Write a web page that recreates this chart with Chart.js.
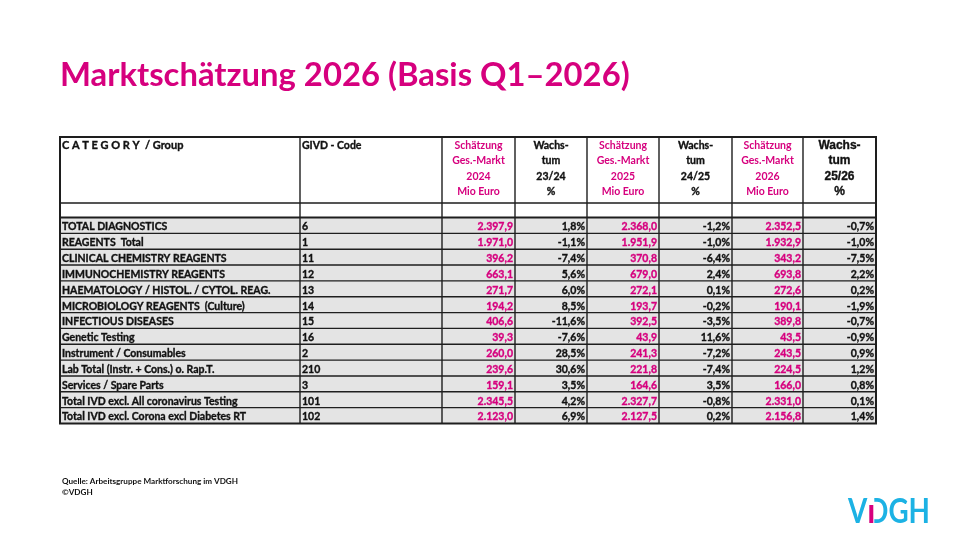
<!DOCTYPE html>
<html>
<head>
<meta charset="utf-8">
<script src="https://cdn.jsdelivr.net/npm/chart.js@4"></script>
<style>
  html, body { margin: 0; padding: 0; background: #fff; }
  #wrap { width: 960px; height: 540px; position: relative; }
</style>
</head>
<body>
<div id="wrap"><canvas id="chart" width="960" height="540"></canvas></div>
<script>
// Daten der Tabelle
const categories = [
    'TOTAL DIAGNOSTICS',
    'REAGENTS  Total',
    'CLINICAL CHEMISTRY REAGENTS',
    'IMMUNOCHEMISTRY REAGENTS',
    'HAEMATOLOGY / HISTOL. / CYTOL. REAG.',
    'MICROBIOLOGY REAGENTS  (Culture)',
    'INFECTIOUS DISEASES',
    'Genetic Testing',
    'Instrument / Consumables',
    'Lab Total (Instr. + Cons.) o. Rap.T.',
    'Services / Spare Parts',
    'Total IVD excl. All coronavirus Testing',
    'Total IVD excl. Corona excl Diabetes RT',
];
const givdCodes = ['6', '1', '11', '12', '13', '14', '15', '16', '2', '210', '3', '101', '102'];
const market2024 = [2397.9, 1971.0, 396.2, 663.1, 271.7, 194.2, 406.6, 39.3, 260.0, 239.6, 159.1, 2345.5, 2123.0];
const growth2324 = [1.8, -1.1, -7.4, 5.6, 6.0, 8.5, -11.6, -7.6, 28.5, 30.6, 3.5, 4.2, 6.9];
const market2025 = [2368.0, 1951.9, 370.8, 679.0, 272.1, 193.7, 392.5, 43.9, 241.3, 221.8, 164.6, 2327.7, 2127.5];
const growth2425 = [-1.2, -1.0, -6.4, 2.4, 0.1, -0.2, -3.5, 11.6, -7.2, -7.4, 3.5, -0.8, 0.2];
const market2026 = [2352.5, 1932.9, 343.2, 693.8, 272.6, 190.1, 389.8, 43.5, 243.5, 224.5, 166.0, 2331.0, 2156.8];
const growth2526 = [-0.7, -1.0, -7.5, 2.2, 0.2, -1.9, -0.7, -0.9, 0.9, 1.2, 0.8, 0.1, 1.4];

// Kopfzeilen
const headerCategory = 'C A T E G O R Y  / Group';
const headerCode = 'GIVD - Code';
const headerMarket = [
    ['Schätzung', 'Ges.-Markt', '2024', 'Mio Euro'],
    ['Schätzung', 'Ges.-Markt', '2025', 'Mio Euro'],
    ['Schätzung', 'Ges.-Markt', '2026', 'Mio Euro'],
];
const headerGrowth = [
    ['Wachs-', 'tum', '23/24', '%'],
    ['Wachs-', 'tum', '24/25', '%'],
    ['Wachs-', 'tum', '25/26', '%'],
];

const titleText = 'Marktschätzung 2026 (Basis Q1–2026)';
const sourceText = 'Quelle: Arbeitsgruppe Marktforschung im VDGH';
const copyrightText = '©VDGH';

// Layout (Spaltengrenzen in x-Einheiten der Skala, 0..816)
const COL_EDGES = [0, 240, 382, 455, 527, 599, 672, 743, 816];
const MAGENTA = 'rgb(214, 0, 126)';
const CYAN = 'rgb(28, 178, 228)';
const FONT = 'Lato, "Open Sans", sans-serif';

// deutsches Zahlenformat
function fmtNumber(v) {
    const neg = v < 0;
    const parts = Math.abs(v).toFixed(1).split('.');
    const intPart = parts[0].replace(/\B(?=(\d{3})+(?!\d))/g, '.');
    return (neg ? '-' : '') + intPart + ',' + parts[1];
}
function fmtPercent(v) {
    return fmtNumber(v) + '%';
}

// etwas kräftigerer Text (Calibri bold wirkt dicker als Lato bold)
function boldText(ctx, text, x, y) {
    ctx.strokeStyle = ctx.fillStyle;
    ctx.lineWidth = 0.35;
    ctx.strokeText(text, x, y);
    ctx.fillText(text, x, y);
}

const tablePlugin = {
    id: 'tablePlugin',
    afterDatasetsDraw(chart) {
        const ctx = chart.ctx;
        const xs = chart.scales.x;
        const ys = chart.scales.y;
        const area = chart.chartArea;
        const edges = COL_EDGES.map(v => xs.getPixelForValue(v));
        const band = (area.bottom - area.top) / categories.length;

        const headerTop = area.top - 80.5;
        const headerBottom = area.top - 14.5;

        ctx.save();

        // Titel
        let size = 32;
        ctx.font = `bold ${size}px ${FONT}`;
        size = size * 570 / ctx.measureText(titleText).width;
        ctx.font = `bold ${size}px ${FONT}`;
        ctx.fillStyle = MAGENTA;
        ctx.textBaseline = 'alphabetic';
        ctx.textAlign = 'left';
        ctx.fillText(titleText, 60, 86);

        // Zeilen mit Werten
        const columns = [
            { values: market2024, fmt: fmtNumber, color: MAGENTA },
            { values: growth2324, fmt: fmtPercent, color: '#111' },
            { values: market2025, fmt: fmtNumber, color: MAGENTA },
            { values: growth2425, fmt: fmtPercent, color: '#111' },
            { values: market2026, fmt: fmtNumber, color: MAGENTA },
            { values: growth2526, fmt: fmtPercent, color: '#111' },
        ];
        ctx.textBaseline = 'middle';
        categories.forEach((cat, i) => {
            const y = ys.getPixelForValue(i) + 1.5;
            ctx.font = `bold 10.5px ${FONT}`;
            ctx.fillStyle = '#111';
            ctx.textAlign = 'left';
            boldText(ctx, cat, edges[0] + 2, y);
            boldText(ctx, givdCodes[i], edges[1] + 2, y);
            ctx.textAlign = 'right';
            columns.forEach((col, c) => {
                ctx.fillStyle = col.color;
                boldText(ctx, col.fmt(col.values[i]), edges[c + 3] - 2, y);
            });
        });

        // Kopfzeile
        const lineY = [145.5, 161, 176.5, 192].map(v => v - 137 + headerTop);
        ctx.textAlign = 'left';
        ctx.fillStyle = '#111';
        ctx.font = `bold 11px ${FONT}`;
        boldText(ctx, headerCategory, edges[0] + 2, lineY[0]);
        ctx.font = `bold 10.5px ${FONT}`;
        boldText(ctx, headerCode, edges[1] + 2, lineY[0]);
        ctx.textAlign = 'center';
        headerMarket.forEach((lines, k) => {
            const cx = (edges[2 + 2 * k] + edges[3 + 2 * k]) / 2;
            ctx.fillStyle = MAGENTA;
            ctx.font = `bold 10.5px ${FONT}`;
            lines.forEach((t, j) => ctx.fillText(t, cx, lineY[j]));
        });
        headerGrowth.forEach((lines, k) => {
            const cx = (edges[3 + 2 * k] + edges[4 + 2 * k]) / 2;
            ctx.fillStyle = '#111';
            ctx.font = k === 2 ? `bold 12px "Liberation Sans", Arial, sans-serif` : `bold 10.5px ${FONT}`;
            lines.forEach((t, j) => boldText(ctx, t, cx, lineY[j]));
        });

        // Gitterlinien
        ctx.strokeStyle = '#1e1e1e';
        ctx.lineWidth = 1.4;
        ctx.beginPath();
        edges.forEach(x => {
            ctx.moveTo(x, headerTop);
            ctx.lineTo(x, area.bottom);
        });
        ctx.moveTo(edges[0], headerBottom);
        ctx.lineTo(edges[8], headerBottom);
        for (let i = 1; i < categories.length; i++) {
            const y = ys.getPixelForValue(i) - band / 2;
            ctx.moveTo(edges[0], y);
            ctx.lineTo(edges[8], y);
        }
        ctx.stroke();

        ctx.lineWidth = 2;
        ctx.beginPath();
        [headerTop, area.top, area.bottom].forEach(y => {
            ctx.moveTo(edges[0] - 1, y);
            ctx.lineTo(edges[8] + 1, y);
        });
        ctx.moveTo(edges[0], headerTop);
        ctx.lineTo(edges[0], area.bottom);
        ctx.moveTo(edges[8], headerTop);
        ctx.lineTo(edges[8], area.bottom);
        ctx.stroke();

        // Quelle
        ctx.textAlign = 'left';
        ctx.textBaseline = 'middle';
        ctx.fillStyle = '#111';
        ctx.font = `bold 8px ${FONT}`;
        const srcScale = 176 / ctx.measureText(sourceText).width;
        ctx.save();
        ctx.translate(62, 0);
        ctx.scale(srcScale, 1);
        ctx.fillText(sourceText, 0, 481);
        ctx.fillText(copyrightText, 0, 492);
        ctx.restore();

        // Logo
        ctx.font = `bold 34px ${FONT}`;
        ctx.textBaseline = 'alphabetic';
        const logoScale = 82 / ctx.measureText('VDGH').width;
        const vWidth = ctx.measureText('V').width;
        ctx.save();
        ctx.translate(848, 523);
        ctx.scale(logoScale, 1);
        ctx.fillStyle = CYAN;
        ctx.fillText('VDGH', 0, 0);
        ctx.restore();
        const stemX = 848 + vWidth * logoScale + 2;
        ctx.fillStyle = '#fff';
        ctx.fillRect(stemX - 1, 497, 6, 27);
        ctx.fillStyle = MAGENTA;
        ctx.fillRect(stemX, 505, 4, 18);

        ctx.restore();
    }
};

new Chart(document.getElementById('chart'), {
    type: 'bar',
    data: {
        labels: categories,
        datasets: [{
            data: categories.map(() => [COL_EDGES[0], COL_EDGES[COL_EDGES.length - 1]]),
            backgroundColor: '#e4e4e4',
            borderWidth: 0,
            barPercentage: 1,
            categoryPercentage: 1,
        }],
    },
    options: {
        indexAxis: 'y',
        responsive: false,
        animation: false,
        devicePixelRatio: 1,
        events: [],
        layout: {
            padding: { left: 60, right: 84, top: 217.5, bottom: 116.5 },
        },
        plugins: {
            legend: { display: false },
            tooltip: { enabled: false },
            title: { display: false },
        },
        scales: {
            x: { type: 'linear', min: COL_EDGES[0], max: COL_EDGES[COL_EDGES.length - 1], display: false },
            y: { type: 'category', display: false, offset: true },
        },
    },
    plugins: [tablePlugin],
});
</script>
</body>
</html>
